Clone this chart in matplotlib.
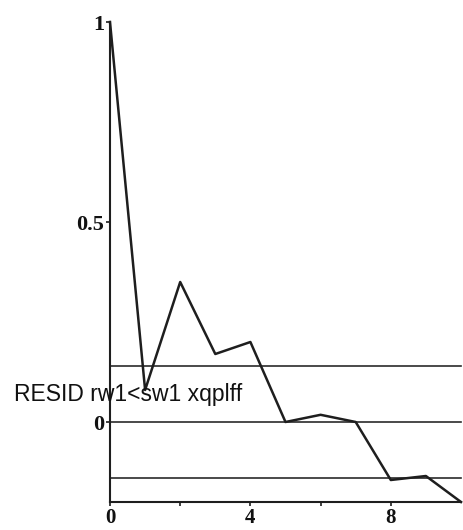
import matplotlib
matplotlib.use("Agg")
import matplotlib.pyplot as plt

lags = [0, 1, 2, 3, 4, 5, 6, 7, 8, 9, 10]
acf = [1.0, 0.08, 0.35, 0.17, 0.2, 0.0, 0.018, 0.0, -0.145, -0.135, -0.2]
band = 0.14
x_ticks = [0, 2, 4, 6, 8]
x_labels = ["0", "", "4", "", "8"]
y_ticks = [0, 0.5, 1]
y_labels = ["0", "0.5", "1"]
series_label = "RESID rw1<sw1 xqplff"

W, H = 463, 530
fig = plt.figure(figsize=(W / 100, H / 100), dpi=100, facecolor="white")
ax = fig.add_axes([110 / W, (H - 502) / H, (461 - 110) / W, (502 - 22) / H])

# confidence band and zero line
for yv in (band, 0, -band):
    ax.axhline(yv, color="#2a2a2a", linewidth=1.2, clip_on=False)

ax.plot(lags, acf, color="#1e1e1e", linewidth=1.8, clip_on=False)

ax.set_xlim(0, 10)
ax.set_ylim(-0.2, 1)
ax.spines["top"].set_visible(False)
ax.spines["right"].set_visible(False)
for s in ("left", "bottom"):
    ax.spines[s].set_linewidth(1.5)
    ax.spines[s].set_color("#1e1e1e")

ax.set_xticks(x_ticks)
ax.set_xticklabels(x_labels)
ax.set_yticks(y_ticks)
ax.set_yticklabels(y_labels)
ax.tick_params(axis="both", length=3, width=1.2, color="#1e1e1e")
ax.tick_params(axis="x", pad=1)
ax.tick_params(axis="y", pad=1)
for lab in ax.get_yticklabels():
    lab.set_fontsize(16)
for lab in ax.get_xticklabels():
    lab.set_fontsize(15)
for lab in ax.get_xticklabels() + ax.get_yticklabels():
    lab.set_fontfamily("Liberation Serif")
    lab.set_fontweight("bold")
    lab.set_color("#111111")

fig.text(14 / W, 1 - 395 / H, series_label, family="Liberation Sans",
         fontsize=16.5, color="#111111", va="center", ha="left")

fig.savefig("out.png", dpi=100, facecolor="white")
